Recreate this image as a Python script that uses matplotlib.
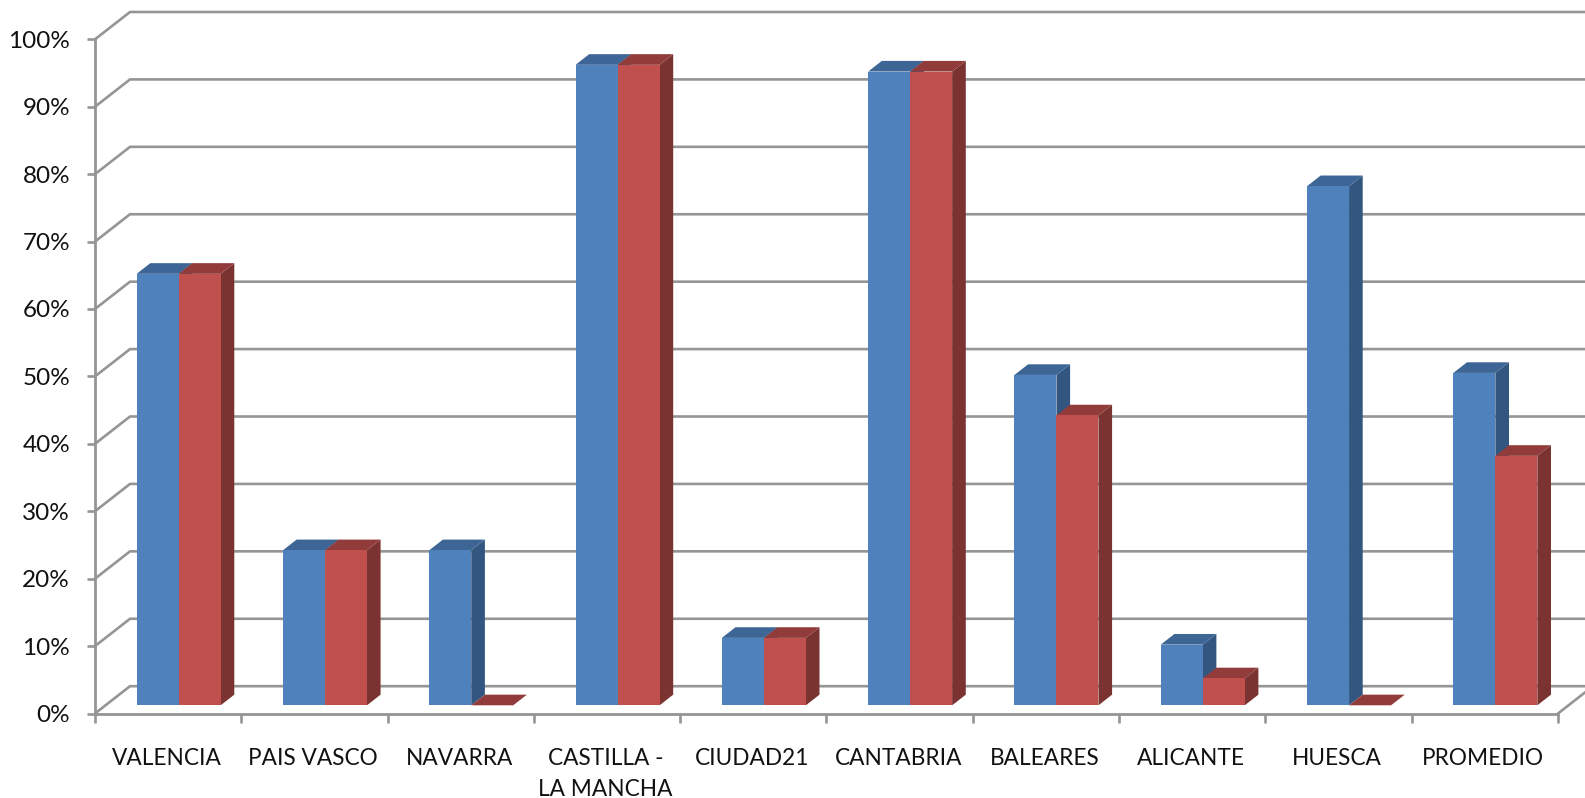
import matplotlib
matplotlib.use('Agg')
import matplotlib.pyplot as plt

CATEGORIES = ['VALENCIA', 'PAIS VASCO', 'NAVARRA', 'CASTILLA -\nLA MANCHA', 'CIUDAD21',
              'CANTABRIA', 'BALEARES', 'ALICANTE', 'HUESCA', 'PROMEDIO']
BLUE_VALUES = [0.64, 0.23, 0.23, 0.95, 0.10, 0.94, 0.49, 0.09, 0.77, 0.493]
RED_VALUES = [0.64, 0.23, 0.0, 0.95, 0.10, 0.94, 0.43, 0.04, 0.0, 0.37]
Y_TICKS = [i / 10 for i in range(11)]
Y_LABELS = ['%d%%' % (i * 10) for i in range(11)]

WIDTH, HEIGHT = 1585, 798
GRAY = '#959595'
# oblique projection of the depth axis, in data units per full depth
DEPTH_X = 35 / 146.3
DEPTH_Y = 27.3 / 674
BAR_WIDTH = 0.287
BAR_FRONT, BAR_BACK = 0.3, 0.69


def project(x, y, depth):
    """Shift a data point back along the oblique depth axis."""
    return x + depth * DEPTH_X, y + depth * DEPTH_Y


def draw_bar(ax, left, value, front, side, top):
    right = left + BAR_WIDTH
    corners = [(right, value, BAR_FRONT), (right, value, BAR_BACK),
               (right, 0, BAR_BACK), (right, 0, BAR_FRONT)]
    ax.fill(*zip(*[project(*c) for c in corners]), color=side, lw=0, zorder=3)
    corners = [(left, value, BAR_FRONT), (left, value, BAR_BACK),
               (right, value, BAR_BACK), (right, value, BAR_FRONT)]
    ax.fill(*zip(*[project(*c) for c in corners]), color=top, lw=0, zorder=3)
    corners = [(left, 0, BAR_FRONT), (left, value, BAR_FRONT),
               (right, value, BAR_FRONT), (right, 0, BAR_FRONT)]
    ax.fill(*zip(*[project(*c) for c in corners]), color=front, lw=0, zorder=3)


plt.rcParams['font.family'] = ['Lato', 'DejaVu Sans']
fig = plt.figure(figsize=(WIDTH / 100, HEIGHT / 100), dpi=100)
ax = fig.add_axes([95 / WIDTH, 1 - 713.5 / HEIGHT, 1463 / WIDTH, 674.2 / HEIGHT])

# back wall lines
n = len(CATEGORIES)
for tick in Y_TICKS:
    xs, ys = zip(project(0, tick, 0), project(0, tick, 1), project(n, tick, 1))
    ax.plot(xs, ys, color=GRAY, lw=1.9, zorder=1, clip_on=False, solid_capstyle='butt')
xs, ys = zip(project(n, 0, 0), project(n, 0, 1))
ax.plot(xs, ys, color=GRAY, lw=1.9, zorder=1, clip_on=False)

for i in range(n):
    start = i + 0.5 - BAR_WIDTH
    draw_bar(ax, start, BLUE_VALUES[i], '#4F81BD', '#335680', '#3D6696')
    draw_bar(ax, start + BAR_WIDTH, RED_VALUES[i], '#C0504D', '#7A3331', '#913C3A')

ax.set_xlim(0, n)
ax.set_ylim(0, 1)
for name in ('top', 'right'):
    ax.spines[name].set_visible(False)
for name in ('left', 'bottom'):
    ax.spines[name].set_color(GRAY)
    ax.spines[name].set_linewidth(2.0)

ax.set_yticks(Y_TICKS, Y_LABELS)
ax.set_xticks(range(n + 1), [''] * (n + 1))
ax.set_xticks([i + 0.49 for i in range(n)], CATEGORIES, minor=True)
ax.tick_params(axis='y', length=6, width=1.9, color=GRAY, pad=12, labelsize=17.5, labelcolor='#111111')
ax.tick_params(axis='x', which='major', length=6.5, width=1.9, color=GRAY)
ax.tick_params(axis='x', which='minor', length=0, pad=24.5, labelsize=16.3, labelcolor='#111111')
for label in ax.get_xticklabels(minor=True):
    label.set_linespacing(1.64)

fig.savefig('out.png', dpi=100)
